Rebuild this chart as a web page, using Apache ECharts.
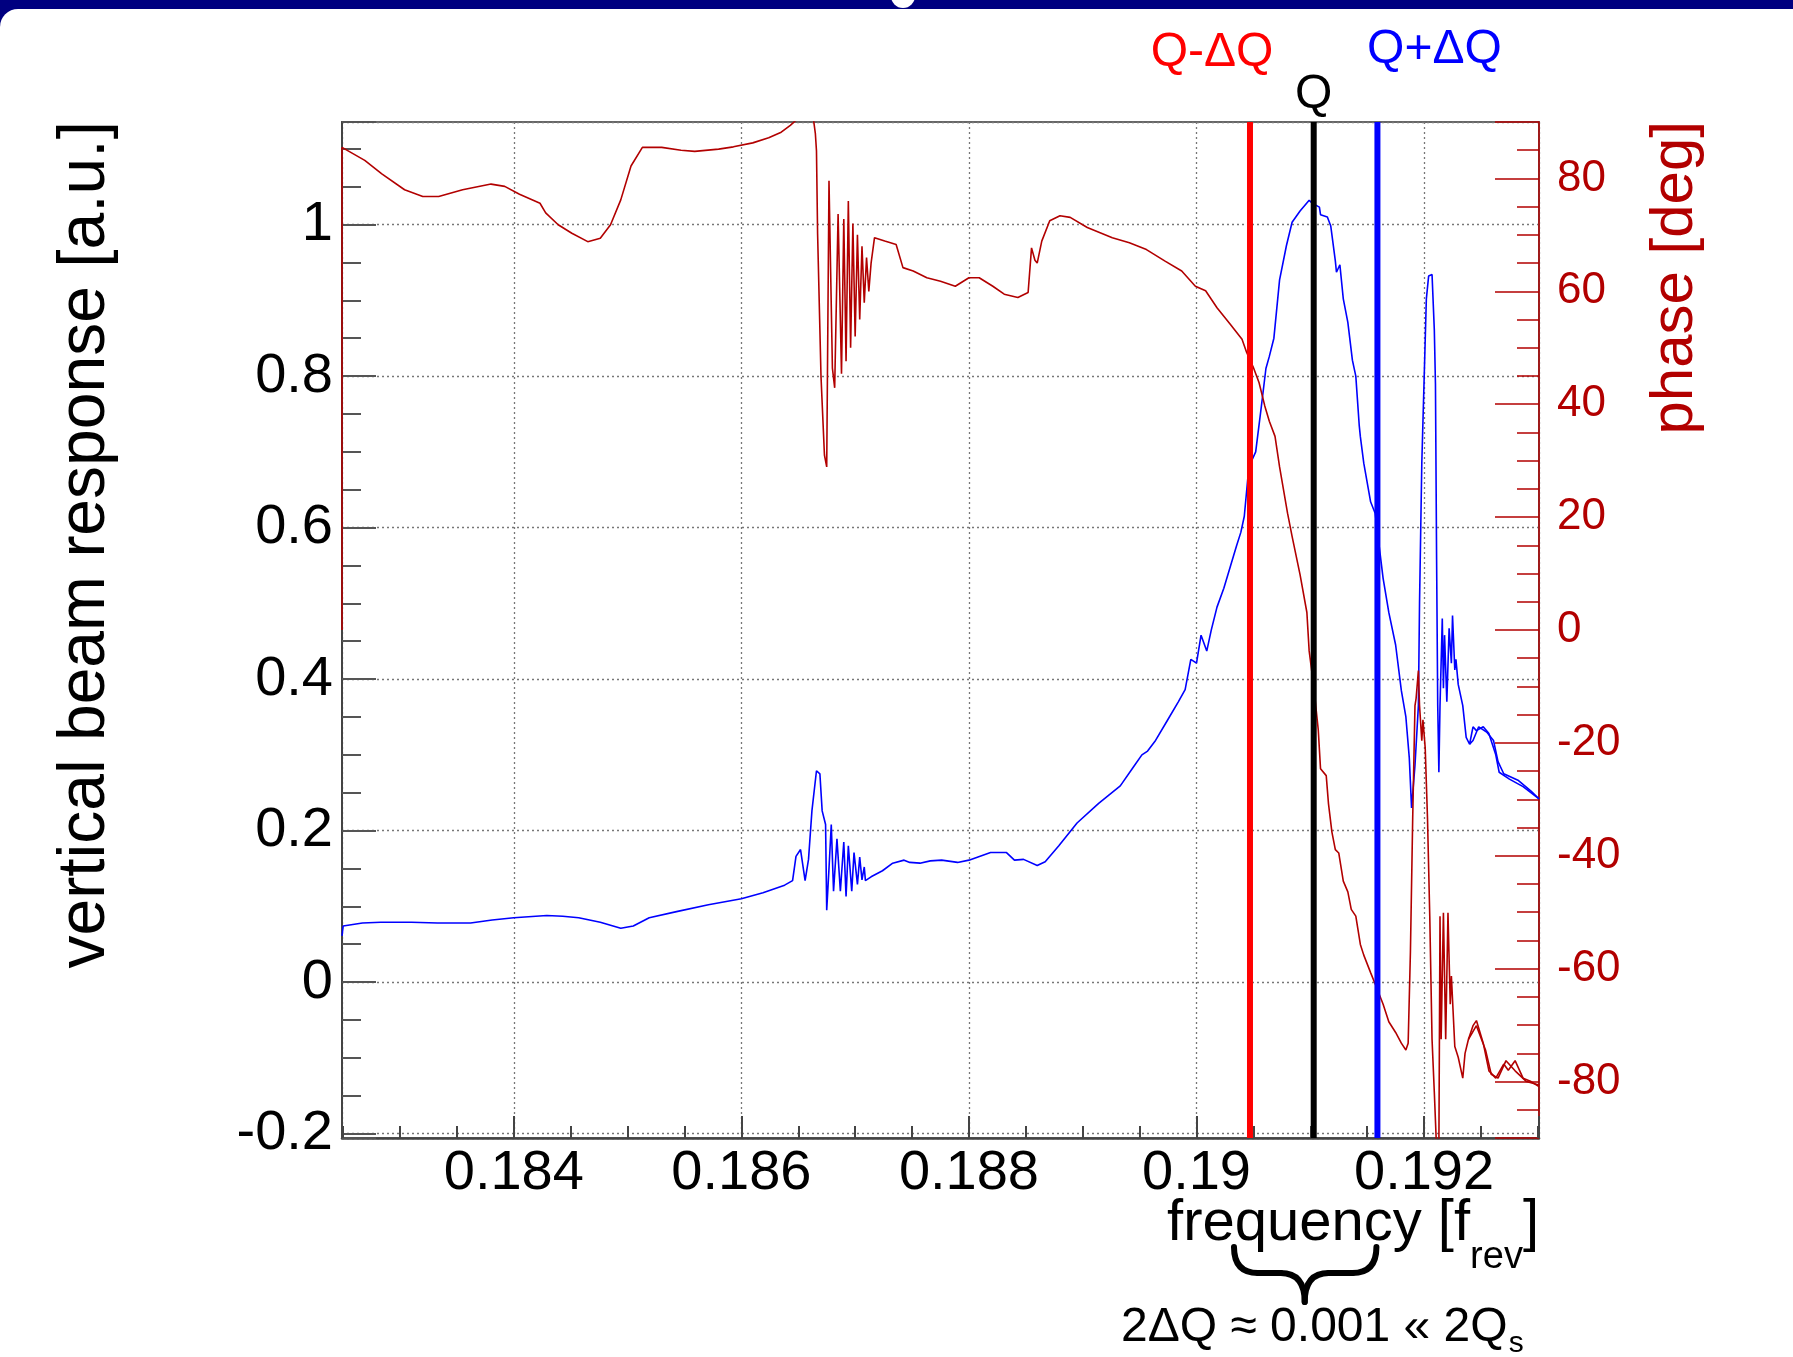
<!DOCTYPE html>
<html><head><meta charset="utf-8">
<script src="https://cdn.jsdelivr.net/npm/echarts@6/dist/echarts.min.js"></script>
<style>html,body{margin:0;padding:0;background:#fff}#c{width:1793px;height:1357px}</style>
</head><body><div id="c"></div>
<script>
// ---- axis ranges / markers ----
const xMin = 0.18249, xMax = 0.19301;
const ampMin = -0.2058, ampMax = 1.1354;
const phaseMin = -90, phaseMax = 90;
const qLow = 0.19047, qCenter = 0.19103, qHigh = 0.19159;

// ---- vertical beam response (blue), main sweep ----
const ampFreq = [0.18249,0.18250,0.18267,0.18283,0.18310,0.18333,0.18362,0.18381,0.18400,0.18429,0.18443,0.18457,0.18476,0.18494,0.18505,0.18519,0.18543,0.18571,0.18600,0.18619,0.18638,0.18645,0.18648,0.18652,0.18656,0.18659,0.18662,0.18666,0.18669,0.18671,0.18674,0.18675,0.18677,0.18679,0.18681,0.18684,0.18687,0.18690,0.18692,0.18694,0.18697,0.18699,0.18702,0.18704,0.18706,0.18708,0.18709,0.18714,0.18724,0.18733,0.18743,0.18748,0.18757,0.18766,0.18776,0.18790,0.18800,0.18819,0.18833,0.18840,0.18848,0.18860,0.18867,0.18879,0.18895,0.18914,0.18933,0.18945,0.18952,0.18957,0.18964,0.18975,0.18984,0.18990,0.18995,0.19000,0.19004,0.19009,0.19013,0.19018,0.19024,0.19030,0.19035,0.19039,0.19042,0.19046,0.19052,0.19057,0.19061,0.19064,0.19068,0.19073,0.19079,0.19084,0.19091,0.19099,0.19102,0.19108,0.19109,0.19115,0.19118,0.19122,0.19123,0.19126,0.19129,0.19133,0.19137,0.19140,0.19143,0.19144,0.19147,0.19153,0.19157,0.19164,0.19169,0.19175,0.19180,0.19184,0.19187,0.19189,0.19192,0.19195,0.19196,0.19198,0.19202,0.19204,0.19207,0.19209,0.19210,0.19211,0.19212,0.19213,0.19214,0.19216,0.19217,0.19218,0.19220,0.19222,0.19224,0.19225,0.19227,0.19228,0.19230,0.19234,0.19237,0.19240,0.19243,0.19246,0.19252,0.19257,0.19263,0.19266,0.19275,0.19287,0.19301];
const ampValue = [0.061,0.074,0.078,0.079,0.079,0.078,0.078,0.082,0.085,0.088,0.087,0.085,0.079,0.071,0.074,0.085,0.093,0.102,0.110,0.118,0.128,0.134,0.166,0.175,0.134,0.162,0.226,0.279,0.275,0.226,0.208,0.095,0.150,0.208,0.120,0.189,0.120,0.185,0.113,0.180,0.120,0.171,0.129,0.165,0.135,0.152,0.134,0.139,0.147,0.157,0.161,0.158,0.157,0.160,0.161,0.158,0.161,0.171,0.171,0.161,0.162,0.154,0.159,0.180,0.210,0.236,0.259,0.285,0.300,0.305,0.319,0.347,0.370,0.386,0.426,0.421,0.458,0.437,0.465,0.495,0.520,0.550,0.575,0.594,0.615,0.680,0.700,0.760,0.810,0.826,0.850,0.927,0.972,1.003,1.018,1.032,1.028,1.023,1.013,1.010,0.998,0.952,0.937,0.947,0.902,0.871,0.821,0.800,0.735,0.720,0.685,0.634,0.619,0.533,0.488,0.445,0.385,0.350,0.296,0.230,0.286,0.365,0.500,0.685,0.902,0.932,0.934,0.861,0.790,0.559,0.365,0.277,0.365,0.480,0.388,0.458,0.370,0.467,0.421,0.484,0.412,0.426,0.393,0.365,0.323,0.314,0.337,0.332,0.337,0.328,0.300,0.277,0.268,0.258,0.242];
// second pass over the upper end of the scan
const ampFreqB = [0.19240,0.19243,0.19248,0.19255,0.19261,0.19265,0.19270,0.19283,0.19294,0.19301];
const ampValueB = [0.314,0.319,0.337,0.330,0.319,0.291,0.275,0.266,0.252,0.242];

// ---- phase (dark red), main sweep ----
const phaseFreq = [0.18249,0.18249,0.18269,0.18284,0.18304,0.18320,0.18334,0.18355,0.18380,0.18392,0.18405,0.18423,0.18428,0.18439,0.18451,0.18465,0.18476,0.18485,0.18494,0.18503,0.18513,0.18530,0.18547,0.18559,0.18580,0.18593,0.18610,0.18624,0.18635,0.18643,0.18649,0.18655,0.18660,0.18663,0.18665,0.18666,0.18667,0.18670,0.18673,0.18675,0.18677,0.18680,0.18682,0.18685,0.18688,0.18690,0.18692,0.18694,0.18696,0.18698,0.18700,0.18702,0.18704,0.18706,0.18708,0.18710,0.18712,0.18714,0.18717,0.18726,0.18736,0.18742,0.18751,0.18763,0.18775,0.18788,0.18800,0.18809,0.18821,0.18831,0.18843,0.18852,0.18855,0.18858,0.18860,0.18864,0.18871,0.18880,0.18889,0.18904,0.18926,0.18941,0.18956,0.18972,0.18987,0.18999,0.19008,0.19018,0.19030,0.19040,0.19044,0.19050,0.19055,0.19060,0.19064,0.19069,0.19073,0.19080,0.19084,0.19091,0.19097,0.19099,0.19103,0.19107,0.19109,0.19114,0.19116,0.19119,0.19122,0.19125,0.19129,0.19133,0.19136,0.19140,0.19144,0.19147,0.19153,0.19158,0.19164,0.19169,0.19175,0.19180,0.19184,0.19186,0.19188,0.19190,0.19192,0.19193,0.19195,0.19196,0.19198,0.19199,0.19201,0.19203,0.19205,0.19207,0.19209,0.19211,0.19213,0.19214,0.19215,0.19217,0.19219,0.19221,0.19223,0.19224,0.19227,0.19230,0.19234,0.19236,0.19239,0.19243,0.19246,0.19252,0.19257,0.19263,0.19270,0.19274,0.19280,0.19287,0.19294,0.19301];
const phaseValue = [0,85.5,83.2,80.8,78.0,76.8,76.8,78.0,79.0,78.6,77.2,75.6,73.9,71.8,70.3,68.8,69.4,71.8,76.2,82.2,85.5,85.5,85.0,84.8,85.2,85.6,86.3,87.2,88.2,89.4,90.5,91,90.4,91,88,84.9,70.1,44.8,31.0,28.9,79.6,46.4,42.9,73.7,45.4,72.8,47.6,76.0,50.0,72,52,70,55,68,58,66,60,65,69.5,68.9,68.3,64.2,63.6,62.4,61.8,60.9,62.4,62.4,60.9,59.5,58.9,59.8,67.7,65.5,65.0,68.9,72.5,73.4,73.1,71.3,69.5,68.6,67.4,65.4,63.6,60.9,60.1,57.1,54.1,51.5,49.2,46.5,43.8,39.7,37.0,34.3,28.9,20.7,16.6,9.8,3.1,-3.7,-10,-17.7,-24.6,-25.8,-30.8,-35.8,-38.9,-39.5,-44.5,-46.4,-49.5,-50.7,-55.7,-57.6,-60.7,-63.2,-66.3,-69.4,-71.3,-73.2,-74.4,-73.2,-57.0,-33.3,-13.4,-12.1,-7.2,-13.4,-19.6,-15.9,-20.9,-33.3,-50.7,-72.5,-81.9,-92,-92,-50.7,-72.5,-50.1,-72.5,-50.1,-66.3,-61.3,-73.8,-75.7,-79.4,-75.0,-72.5,-70.1,-69.2,-73.2,-78.1,-79.4,-76.9,-78.0,-76.3,-79.4,-80.0,-80.9];
const phaseFreqB = [0.19239,0.19246,0.19254,0.19259,0.19265,0.19272,0.19280,0.19290,0.19301];
const phaseValueB = [-72.5,-70.1,-74.4,-78.7,-79.4,-76.3,-78.1,-80.0,-80.6];

// ---- tick steps ----
const xTickStep = 0.002, ampTickStep = 0.2, phaseTickStep = 20;

const zip = (xs, ys) => xs.map((x, i) => [x, ys[i]]);
const FONT = '"Liberation Sans", Arial, Helvetica, sans-serif';
const DARKRED = '#b20000';
const isMult = (v, step) => Math.abs(v / step - Math.round(v / step)) < 1e-6;
const vline = (q, color) => ({type: 'line', yAxisIndex: 0, data: [[q, ampMin], [q, ampMax]], showSymbol: false, symbol: 'none',
  clip: true, z: 10, silent: true, lineStyle: {color: color, width: 6}});

const chart = echarts.init(document.getElementById('c'), null, {renderer: 'canvas'});

const option = {
  animation: false,
  backgroundColor: '#ffffff',
  grid: {left: 342, top: 122, width: 1197, height: 1016, show: true, borderColor: '#666', borderWidth: 2, containLabel: false},
  xAxis: {
    type: 'value', min: xMin, max: xMax, minInterval: xTickStep, maxInterval: xTickStep,
    axisLine: {show: true, onZero: false, lineStyle: {color: '#444', width: 2.5}},
    axisTick: {show: true, inside: true, length: 22, lineStyle: {color: '#444', width: 2}},
    minorTick: {show: true, splitNumber: 4, length: 12, lineStyle: {color: '#444', width: 2}},
    splitLine: {show: true, lineStyle: {color: '#777', width: 1.3, type: [2, 3]}},
    axisLabel: {show: true, margin: 8, fontSize: 56, fontFamily: FONT, color: '#000',
      formatter: v => isMult(v, xTickStep) ? String(parseFloat(v.toFixed(3))) : ''}
  },
  yAxis: [{
    type: 'value', position: 'left', min: ampMin, max: ampMax, minInterval: ampTickStep, maxInterval: ampTickStep,
    axisLine: {show: true, onZero: false, lineStyle: {color: '#444', width: 2}},
    axisTick: {show: true, inside: true, length: 34, lineStyle: {color: '#555', width: 2}},
    minorTick: {show: true, splitNumber: 4, length: 19, lineStyle: {color: '#555', width: 2}},
    splitLine: {show: true, lineStyle: {color: '#777', width: 1.3, type: [2, 3]}},
    axisLabel: {show: true, margin: 9, fontSize: 56, fontFamily: FONT, color: '#000',
      formatter: v => isMult(v, ampTickStep) ? String(parseFloat(v.toFixed(1))) : ''}
  }, {
    type: 'value', position: 'right', min: phaseMin, max: phaseMax, minInterval: phaseTickStep, maxInterval: phaseTickStep,
    axisLine: {show: true, onZero: false, lineStyle: {color: DARKRED, width: 1.5}},
    axisTick: {show: true, inside: true, length: 44, lineStyle: {color: DARKRED, width: 1.5}},
    minorTick: {show: true, splitNumber: 4, length: 22, lineStyle: {color: DARKRED, width: 1.5}},
    splitLine: {show: false},
    axisLabel: {show: true, margin: 18, fontSize: 44, fontFamily: FONT, color: DARKRED,
      formatter: v => (isMult(v, phaseTickStep) && Math.abs(v) < 89) ? String(Math.round(v)) : ''}
  }],
  series: [
    {name: 'amplitude', type: 'line', yAxisIndex: 0, data: zip(ampFreq, ampValue), showSymbol: false, symbol: 'none', clip: true, z: 3,
      lineStyle: {color: '#0000ff', width: 1.6}},
    {name: 'amplitude2', type: 'line', yAxisIndex: 0, data: zip(ampFreqB, ampValueB), showSymbol: false, symbol: 'none', clip: true, z: 3,
      lineStyle: {color: '#0000ff', width: 1.6}},
    {name: 'phase', type: 'line', yAxisIndex: 1, data: zip(phaseFreq, phaseValue), showSymbol: false, symbol: 'none', clip: true, z: 4,
      lineStyle: {color: DARKRED, width: 1.6}},
    {name: 'phase2', type: 'line', yAxisIndex: 1, data: zip(phaseFreqB, phaseValueB), showSymbol: false, symbol: 'none', clip: true, z: 4,
      lineStyle: {color: DARKRED, width: 1.6}},
    vline(qLow, '#ff0000'),
    vline(qCenter, '#000000'),
    vline(qHigh, '#0000ff')
  ]
};
chart.setOption(option);

// ---- annotations ----
const cv = document.createElement('canvas').getContext('2d');
function tw(text, size) { cv.font = size + 'px ' + FONT; return cv.measureText(text).width; }
const pxLow = chart.convertToPixel({xAxisIndex: 0}, qLow);
const pxQ = chart.convertToPixel({xAxisIndex: 0}, qCenter);
const pxHigh = chart.convertToPixel({xAxisIndex: 0}, qHigh);
const gridRight = chart.convertToPixel({xAxisIndex: 0}, xMax);
const gridTop = chart.convertToPixel({yAxisIndex: 0}, ampMax);

function txt(text, x, y, size, color, align, vAlign, rot) {
  return {type: 'text', x: x, y: y, rotation: rot || 0, z: 20,
    style: {text: text, fill: color, font: size + 'px ' + FONT, fontSize: size, fontFamily: FONT,
      align: align, textAlign: align, verticalAlign: vAlign, textVerticalAlign: vAlign}};
}
const midOff = 0.3465; // baseline offset from 'middle'

// frequency [f_rev]
const fsMain = 58, fsSub = 38, baseF = 1244;
const wClose = tw(']', fsMain), wRev = tw('rev', fsSub);
const xClose = gridRight;
const xRevR = xClose - wClose;
const xMainR = xRevR - wRev;

// bottom formula
const fsF = 48, fsS = 30, baseB = 1344, xFormula = 1121;
const formula = '2\u0394Q \u2248 0.001 \u00AB 2Q';
const wFormula = tw(formula, fsF);

// brace
const bL = pxLow - 16, bR = pxHigh - 1, bTip = (pxLow + pxHigh) / 2 - 9;
const yT = 1247, yM = 1273, yB = 1302, r = 24;
const braceStyle = {fill: null, stroke: '#000', lineWidth: 6, lineCap: 'round'};
const quad = (x1, y1, cx, cy, x2, y2) => ({type: 'bezierCurve', z: 20, shape: {x1: x1, y1: y1, x2: x2, y2: y2, cpx1: cx, cpy1: cy}, style: braceStyle});
const seg = (x1, y1, x2, y2) => ({type: 'line', z: 20, shape: {x1: x1, y1: y1, x2: x2, y2: y2}, style: braceStyle});

chart.setOption({graphic: {elements: [
  {type: 'rect', z: -10, shape: {x: 0, y: 0, width: 1793, height: 40}, style: {fill: '#000080'}},
  {type: 'rect', z: -9, shape: {x: 0, y: 9, width: 1793, height: 1348, r: [18, 0, 0, 0]}, style: {fill: '#ffffff'}},
  {type: 'circle', z: -8, shape: {cx: 903, cy: -4, r: 12}, style: {fill: '#ffffff'}},
  txt('vertical beam response [a.u.]', 86, gridTop - 1, 66, '#000', 'right', 'middle', Math.PI / 2),
  txt('phase [deg]', 1675, gridTop - 1, 60, DARKRED, 'right', 'middle', Math.PI / 2),
  txt('Q-\u0394Q', pxLow - 38, 53, 48, '#ff0000', 'center', 'middle'),
  txt('Q', pxQ, 95, 48, '#000000', 'center', 'middle'),
  txt('Q+\u0394Q', pxHigh + 57, 50, 48, '#0000ff', 'center', 'middle'),
  txt('frequency [f', xMainR, baseF - midOff * fsMain, fsMain, '#000', 'right', 'middle'),
  txt('rev', xRevR, baseF + 27 - midOff * fsSub, fsSub, '#000', 'right', 'middle'),
  txt(']', xClose, baseF - midOff * fsMain, fsMain, '#000', 'right', 'middle'),
  txt(formula, xFormula, baseB - midOff * fsF, fsF, '#000', 'left', 'middle'),
  txt('s', xFormula + wFormula + 1, baseB + 10 - midOff * fsS, fsS, '#000', 'left', 'middle'),
  quad(bL, yT, bL, yM, bL + r, yM),
  seg(bL + r, yM, bTip - r, yM),
  quad(bTip - r, yM, bTip, yM, bTip, yB),
  quad(bTip, yB, bTip, yM, bTip + r, yM),
  seg(bTip + r, yM, bR - r, yM),
  quad(bR - r, yM, bR, yM, bR, yT)
]}});
</script>
</body></html>
